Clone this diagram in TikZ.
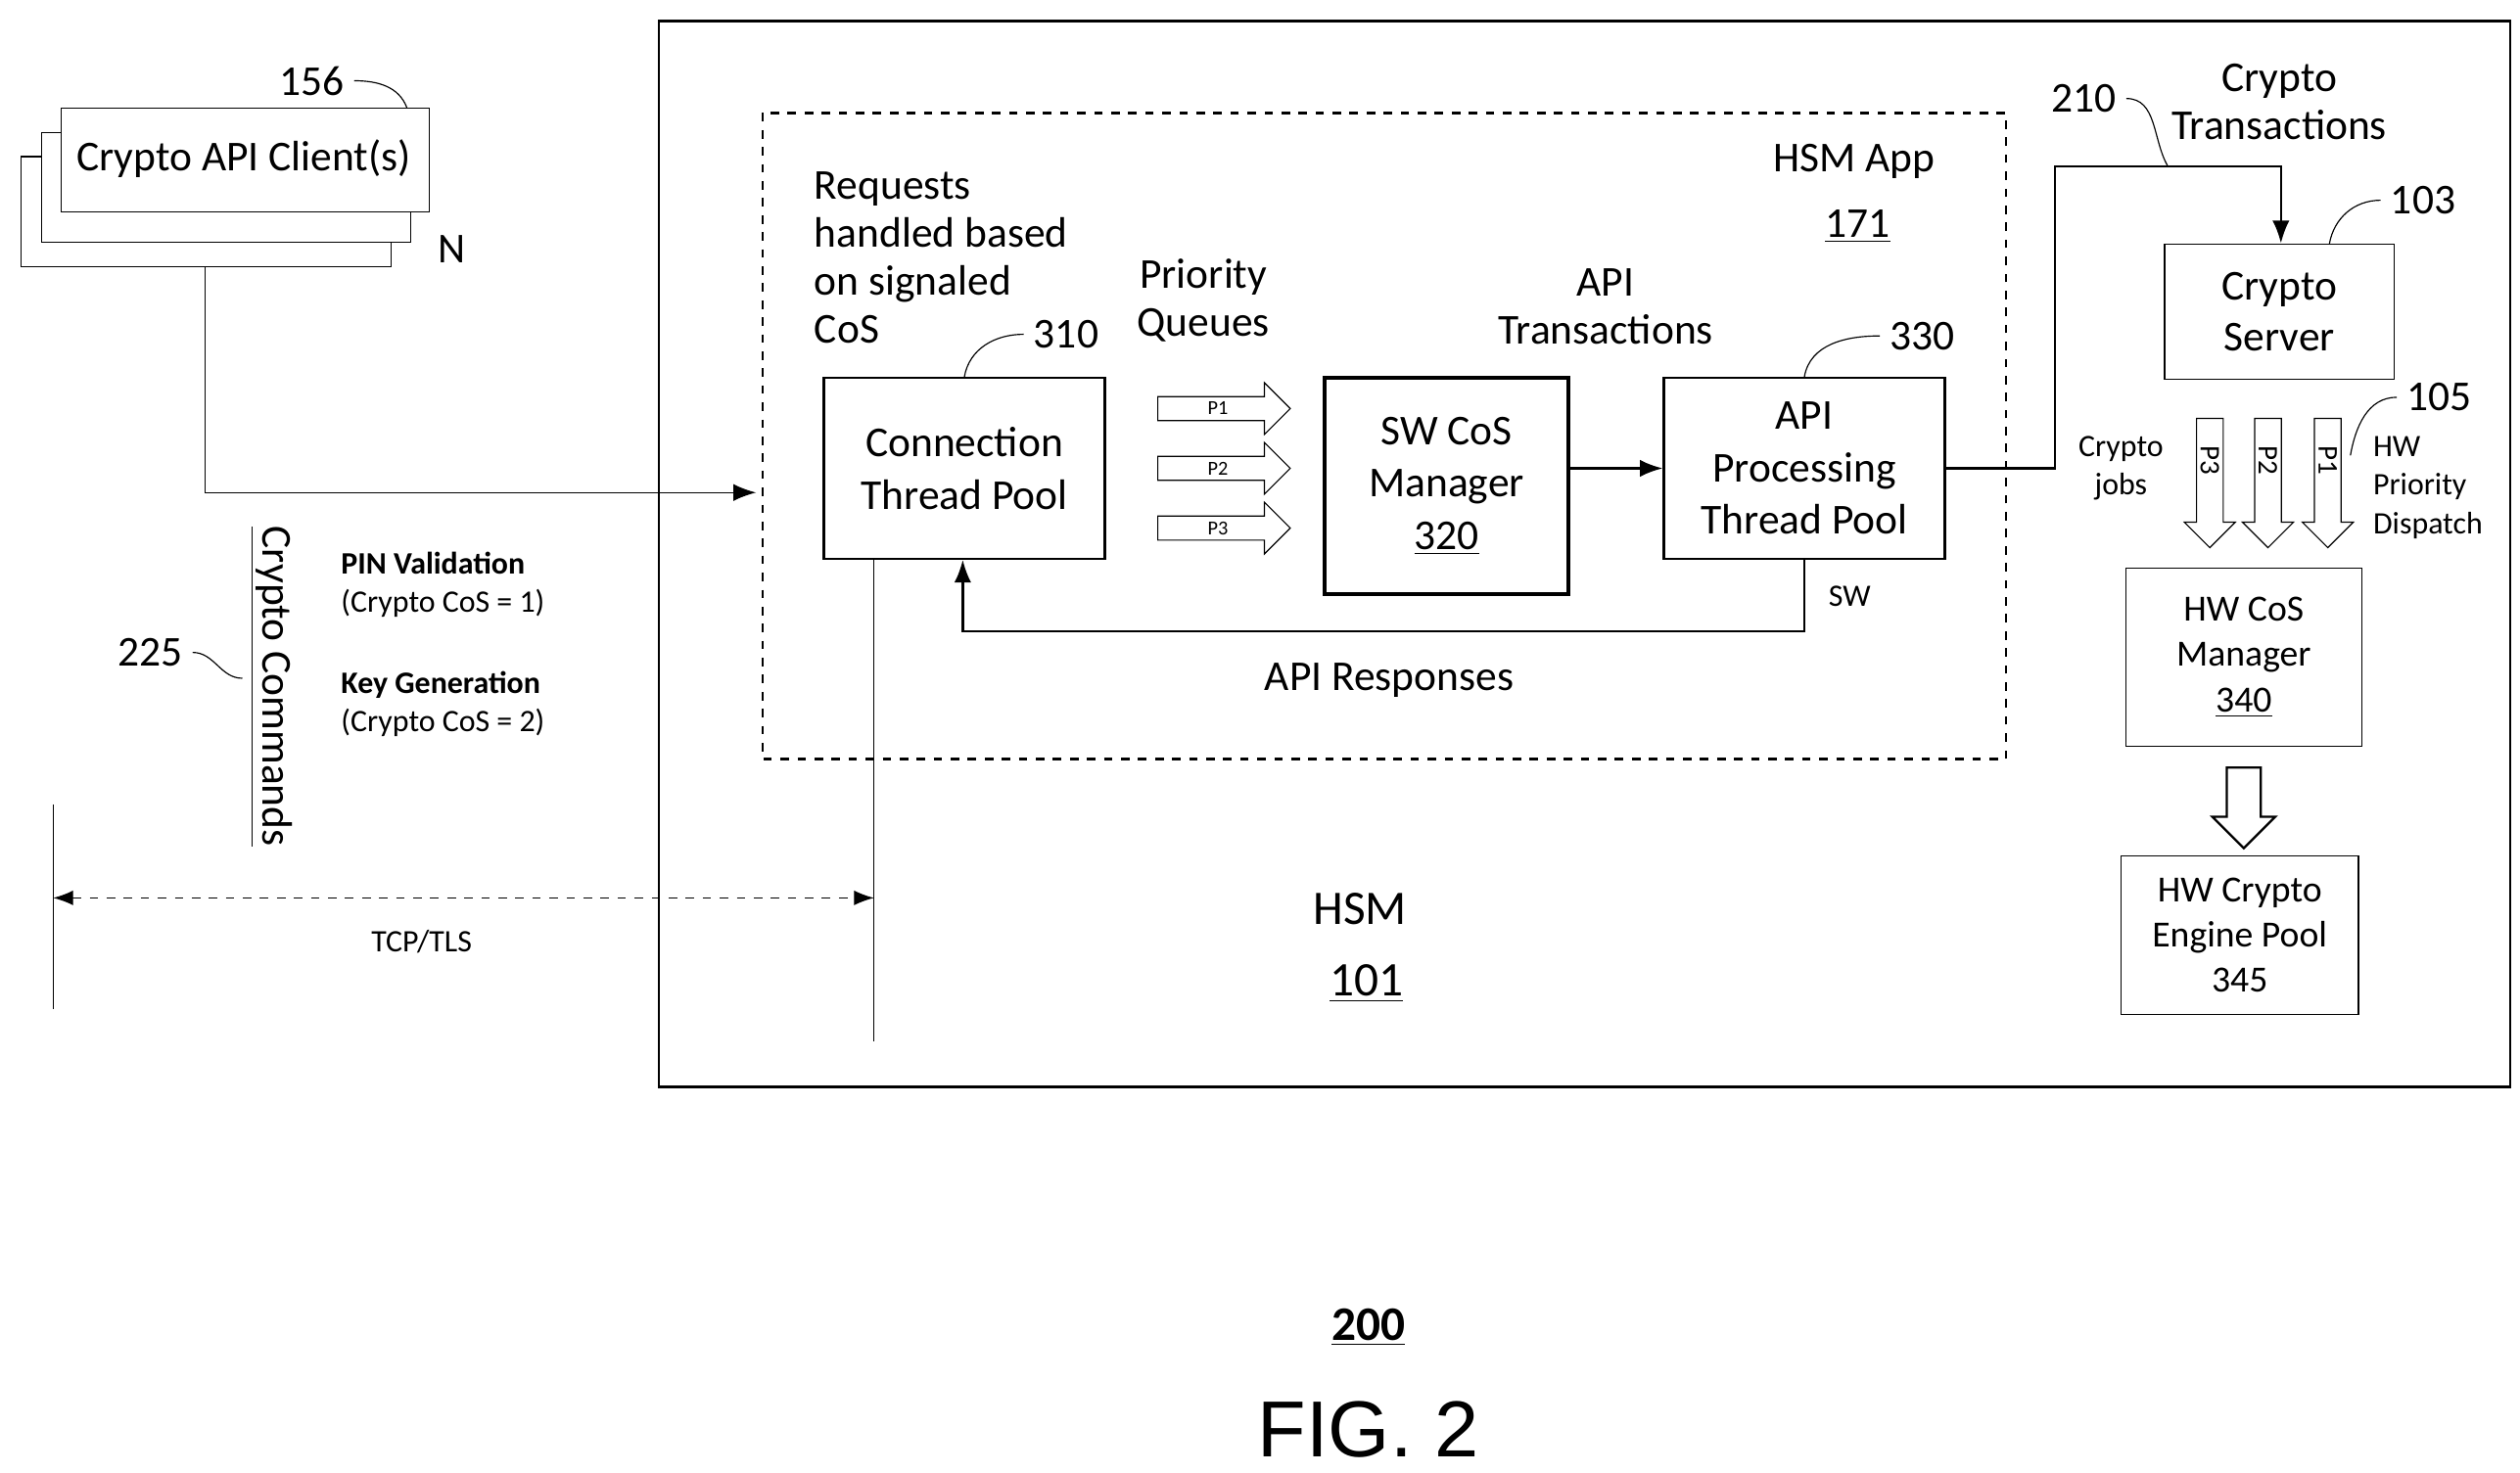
\documentclass[tikz,border=0pt]{standalone}
\usepackage{fontspec}
\setmainfont{Carlito}
\newfontfamily\figfont{Liberation Sans}
\usetikzlibrary{positioning,shapes.arrows,arrows.meta}

\tikzset{
  box/.style={draw,thick,align=center,inner sep=0pt,font=\fontsize{15}{18.5}\selectfont},
  smallbox/.style={draw,align=center,inner sep=0pt,font=\fontsize{12}{15}\selectfont},
  label/.style={align=center,font=\fontsize{15}{17}\selectfont},
  small/.style={align=left,font=\fontsize{11}{13.5}\selectfont},
  fat/.style={single arrow,draw,minimum height=1.64cm,minimum width=0.64cm,single arrow head extend=0.16cm,inner sep=1.5pt,font=\fontsize{7}{7}\selectfont},
  fatdown/.style={single arrow,draw,shape border rotate=270,minimum height=1.6cm,minimum width=0.62cm,single arrow head extend=0.15cm,inner sep=4.5pt},
}

\begin{document}
\begin{tikzpicture}[x=0.02cm,y=-0.02cm]
\useasboundingbox (0,0) rectangle (1560,912);

% clients
\draw[fill=white] (13,97) rectangle (242,165);
\draw[fill=white] (26,82) rectangle (254,150);
\draw[fill=white] (38,67) rectangle (266,131);
\node[label] (client) at (151,98) {Crypto API Client(s)};
\node[label] (n156) at (193,50) {156};
\draw (n156.east) to[out=0,in=110] (252,67);
\node[label] (nN) at (280,154) {N};

% HSM and app
\draw[thick] (408,13) rectangle (1554,673);
\draw[thick,dashed] (472,70) rectangle (1242,470);

\node[box,minimum width=3.48cm,minimum height=2.24cm] (conn) at (597,290) {Connection\\Thread Pool};
\node[box,very thick,minimum width=3.02cm,minimum height=2.68cm] (swcos) at (895.5,301) {SW CoS\\Manager\\\underline{320}};
\node[box,minimum width=3.48cm,minimum height=2.24cm] (api) at (1117,290) {API\\Processing\\Thread Pool};

\node[label] (n310) at (660,207) {310};
\draw (n310.west) to[out=180,in=80] (conn.north);
\node[label] (n330) at (1190,208) {330};
\draw (n330.west) to[out=180,in=80] (api.north);

\foreach \i/\y in {1/253,2/290,3/327}
{
  \node[fat] (P\i) at (754,\y) {P\i};
}

\draw[-{Latex[length=8pt]},thick] (swcos.east |- api.west) -- (api.west);
\coordinate (fb1) at (1117,391);
\coordinate (fb2) at (596,391);
\draw[-{Latex[length=8pt]},thick] (api.south) -- (fb1) -- (fb2) -- (conn.south -| fb2);
\node[small] (sw) at (1145,369) {SW};
\node[label] (resp) at (860,421) {API Responses};

\node[label,align=left,anchor=north west] (req) at (498,100) {Requests\\handled based\\on signaled\\CoS};
\node[label] (pq) at (745,186) {Priority\\Queues};
\node[label] (apit) at (994,190) {API\\Transactions};
\node[label] (app) at (1148,100) {HSM App};
\node[label] (n171) at (1150,140) {\underline{171}};

% client connection
\coordinate (c1) at (127,305);
\draw[-{Latex[length=8pt]}] (127,165) -- (c1) -- (468,305);

% crypto server side
\node[smallbox,font=\fontsize{15}{18}\selectfont,minimum width=2.84cm,minimum height=1.68cm] (server) at (1411,193) {Crypto\\Server};
\coordinate (t1) at (1272,290);
\coordinate (t2) at (1272,103);
\coordinate (t3) at (1412,103);
\draw[-{Latex[length=8pt]},thick] (api.east |- t1) -- (t1) -- (t2) -- (t3) -- (server.north -| t3);
\node[label] (n210) at (1290,61) {210};
\draw (n210.east) to[out=0,in=120] (1342,103);
\node[label] (ctr) at (1411,63) {Crypto\\Transactions};
\node[label] (n103) at (1500,124) {103};
\draw (n103.west) to[out=180,in=80] (1442,151);

\foreach \i/\x in {3/1368,2/1404,1/1441}
{
  \node[fatdown] (D\i) at (\x,295) {};
  \node[rotate=-90,font=\fontsize{10}{10}\selectfont] at (\x,285) {P\i};
}
\node[label] (n105) at (1510,246) {105};
\draw (n105.west) to[out=180,in=80] (1455,282);
\node[small] (hwpd) at (1503,302) {HW\\Priority\\Dispatch};
\node[small,align=center] (cjobs) at (1313,290) {Crypto\\jobs};

\node[smallbox,font=\fontsize{13}{16}\selectfont,minimum width=2.92cm,minimum height=2.2cm] (hwcos) at (1389,407) {HW CoS\\Manager\\\underline{340}};
\node[smallbox,font=\fontsize{13}{16}\selectfont,minimum width=2.94cm,minimum height=1.96cm] (engine) at (1386.5,579) {HW Crypto\\Engine Pool\\345};
\node[single arrow,draw,thick,shape border rotate=270,minimum height=1cm,minimum width=0.76cm,single arrow head extend=0.18cm,inner sep=5.6pt] (hwarr) at (1389,495) {};

\node[label,font=\fontsize{17}{20}\selectfont] (hsm) at (842,563) {HSM};
\node[label,font=\fontsize{17}{20}\selectfont] (n101) at (846,609) {\underline{101}};

% TCP/TLS
\draw (33,498) -- (33,625);
\coordinate (tcpR) at (541,645);
\draw (conn.south -| tcpR) -- (tcpR);
\coordinate (tl) at (33,556);
\coordinate (tr) at (541,556);
\draw[dashed,{Latex[length=7pt]}-{Latex[length=7pt]}] (tl) -- (tr);
\node[small] (tcp) at (261,583) {TCP/TLS};

\node[label,rotate=-90] (cmd) at (168,425) {\underline{Crypto Commands}};
\node[label] (n225) at (93,404) {225};
\draw (n225.east) to[out=0,in=180] (150,420);
\node[small,anchor=west] (pin) at (205,362) {\textbf{PIN Validation}\\(Crypto CoS = 1)};
\node[small,anchor=west] (key) at (205,436) {\textbf{Key Generation}\\(Crypto CoS = 2)};

\node[font=\bfseries\fontsize{17}{20}\selectfont] (fig200) at (847,822) {\underline{200}};
\node[font=\figfont\fontsize{28}{30}\selectfont] (fig) at (847,885) {FIG. 2};
\end{tikzpicture}
\end{document}
